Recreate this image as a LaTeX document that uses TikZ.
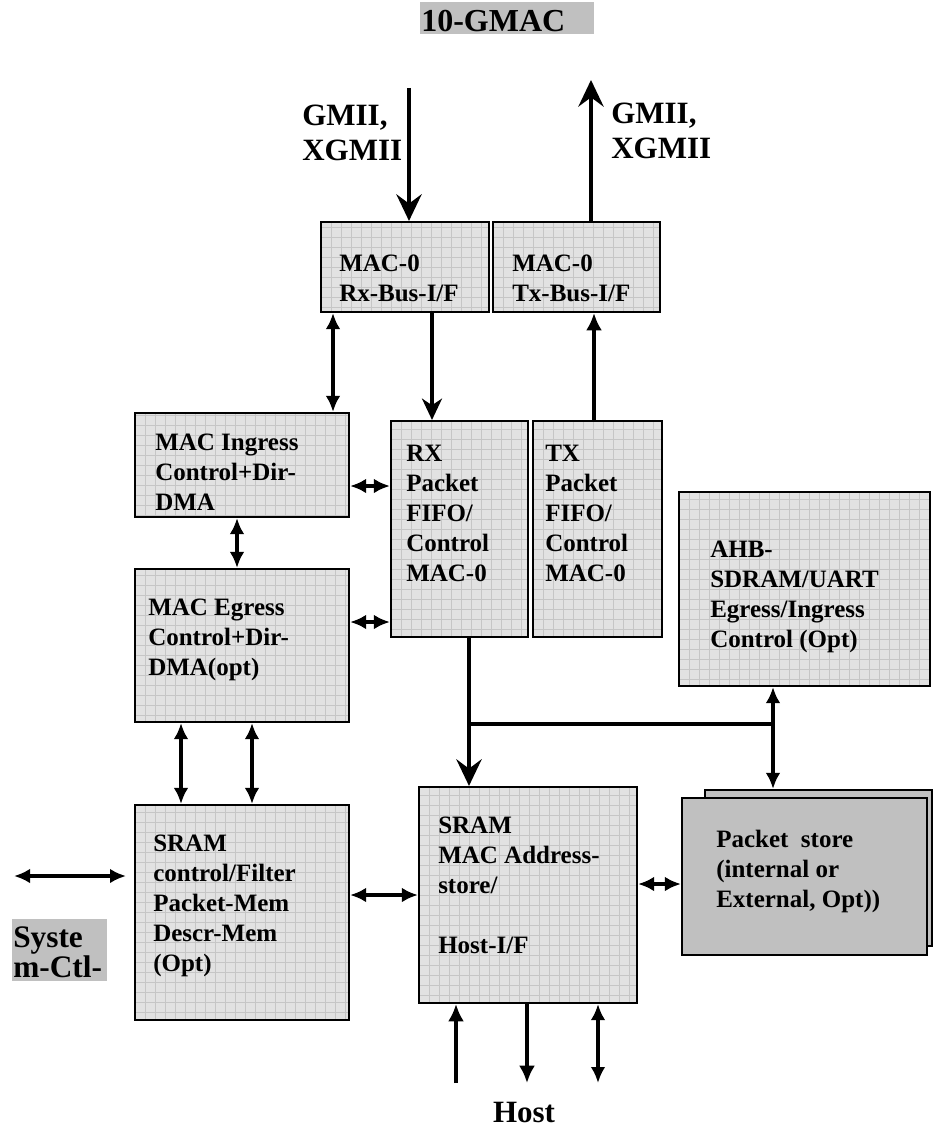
\documentclass[tikz,border=0pt]{standalone}
\usepackage{fontspec}
\setmainfont{Liberation Serif}
\usetikzlibrary{arrows.meta,fit}
\definecolor{boxfill}{HTML}{E2E2E2}
\definecolor{gridline}{HTML}{C6C6C6}
\definecolor{darkfill}{HTML}{C0C0C0}
\begin{document}
\begin{tikzpicture}[x=0.75pt,y=-0.75pt,
  gridbox/.style={draw=black, line width=1.6pt, fill=boxfill, inner sep=0pt,
    path picture={\draw[gridline, line width=0.6pt] (path picture bounding box.south west) grid[step=7.5pt] (path picture bounding box.north east);}},
  plainbox/.style={draw=black, line width=1.6pt, fill=darkfill, inner sep=0pt},
  lbl/.style={font=\bfseries\fontsize{18.75}{22.5}\selectfont, align=left, inner sep=0pt, anchor=base west},
  big/.style={font=\bfseries\fontsize{23.25}{26.25}\selectfont, align=left, inner sep=0pt, anchor=base west},
  conn/.style={line width=2.4pt},
  dbl/.style={conn, {Latex[length=12pt,width=11pt]}-{Latex[length=12pt,width=11pt]}},
  sarr/.style={conn, -{Latex[length=13pt,width=12pt]}},
  stl/.style={conn, -{Stealth[length=20pt,width=19pt,inset=7pt]}},
  mstl/.style={conn, -{Stealth[length=16pt,width=15pt,inset=5pt]}}
]
\useasboundingbox (0,0) rectangle (933,1131);

% title
\node[fill=darkfill, inner sep=0pt, fit={(420,2)(594,34)}] (titlebg) {};
\node[big, font=\bfseries\fontsize{24}{26}\selectfont] (title) at (421,32) {10-GMAC};

% boxes
\node[gridbox, fit={(321,222)(489,312)}] (rx) {};
\node[gridbox, fit={(493,222)(660,312)}] (tx) {};
\node[gridbox, fit={(135,413)(349,517)}] (ing) {};
\node[gridbox, fit={(391,421)(528,637)}] (rxf) {};
\node[gridbox, fit={(533,421)(662,637)}] (txf) {};
\node[gridbox, fit={(679,492)(930,686)}] (ahb) {};
\node[gridbox, fit={(135,569)(349,722)}] (eg) {};
\node[gridbox, fit={(135,805)(349,1020)}] (sctl) {};
\node[gridbox, fit={(419,787)(637,1003)}] (smac) {};
\node[plainbox, fit={(705,790)(932,946)}] (pkb) {};
\node[plainbox, fit={(682,798)(927,955)}] (pkf) {};

% box texts (anchor = baseline of the last line)
\node[lbl] (rxt) at (339,301) {MAC-0\\Rx-Bus-I/F};
\node[lbl] (txt) at (512,301) {MAC-0\\Tx-Bus-I/F};
\node[lbl] (ingt) at (155,510) {MAC Ingress\\Control+Dir-\\DMA};
\node[lbl] (rxft) at (406,581) {RX\\Packet\\FIFO/\\Control\\MAC-0};
\node[lbl] (txft) at (545,581) {TX\\Packet\\FIFO/\\Control\\MAC-0};
\node[lbl] (ahbt) at (710,647) {AHB-\\SDRAM/UART\\Egress/Ingress\\Control (Opt)};
\node[lbl] (egt) at (148,675) {MAC Egress\\Control+Dir-\\DMA(opt)};
\node[lbl] (sctlt) at (153,971) {SRAM\\control/Filter\\Packet-Mem\\Descr-Mem\\(Opt)};
\node[lbl] (smact) at (438,953) {SRAM\\MAC Address-\\store/\\[22.5pt]Host-I/F};
\node[lbl] (pkt) at (716,907) {Packet\ \ store\\(internal or\\External, Opt))};

% outer labels
\node[big] (gl) at (302,160) {GMII,\\XGMII};
\node[big] (gr) at (611,158) {GMII,\\XGMII};
\node[big, anchor=base] (host) at (524,1122) {Host};
\node[fill=darkfill, inner sep=0pt, fit={(12,919)(107,981)}] (sysbg) {};
\node[big, font=\bfseries\fontsize{23.5}{19.5}\selectfont] (sys) at (13,977) {Syste\\m-Ctl-};

% free ends
\coordinate (gin) at (409,88);
\coordinate (gout) at (591,80);
\coordinate (sl) at (14,876);
\coordinate (sr) at (126,876);
\coordinate (j1) at (469,724);
\coordinate (j2) at (773,724);
\coordinate (h1) at (456,1083);
\coordinate (h2) at (527,1083);
\coordinate (h3) at (598,1083);

% connectors
\draw[stl] (gin) -- (gin |- rx.north);
\draw[stl] (gout |- tx.north) -- (gout);
\draw[mstl] (432,0 |- rx.south) -- (432,0 |- rxf.north);
\draw[sarr] (594,0 |- txf.north) -- (594,0 |- tx.south);
\draw[dbl] (333,0 |- rx.south) -- (333,0 |- ing.north);
\draw[dbl] (ing.east |- 0,486) -- (rxf.west |- 0,486);
\draw[dbl] (237,0 |- ing.south) -- (237,0 |- eg.north);
\draw[dbl] (eg.east |- 0,622) -- (rxf.west |- 0,622);
\draw[dbl] (181,0 |- eg.south) -- (181,0 |- sctl.north);
\draw[dbl] (252,0 |- eg.south) -- (252,0 |- sctl.north);
\draw[stl] (469,0 |- rxf.south) -- (469,0 |- smac.north);
\draw[conn] (j1) -- (j2);
\draw[dbl] (773,0 |- ahb.south) -- (773,0 |- pkb.north);
\draw[dbl] (sctl.east |- 0,895) -- (smac.west |- 0,895);
\draw[dbl] (smac.east |- 0,884) -- (pkf.west |- 0,884);
\draw[dbl] (sl) -- (sr);
\draw[sarr] (h1) -- (h1 |- smac.south);
\draw[sarr] (h2 |- smac.south) -- (h2);
\draw[dbl] (h3 |- smac.south) -- (h3);
\end{tikzpicture}
\end{document}
